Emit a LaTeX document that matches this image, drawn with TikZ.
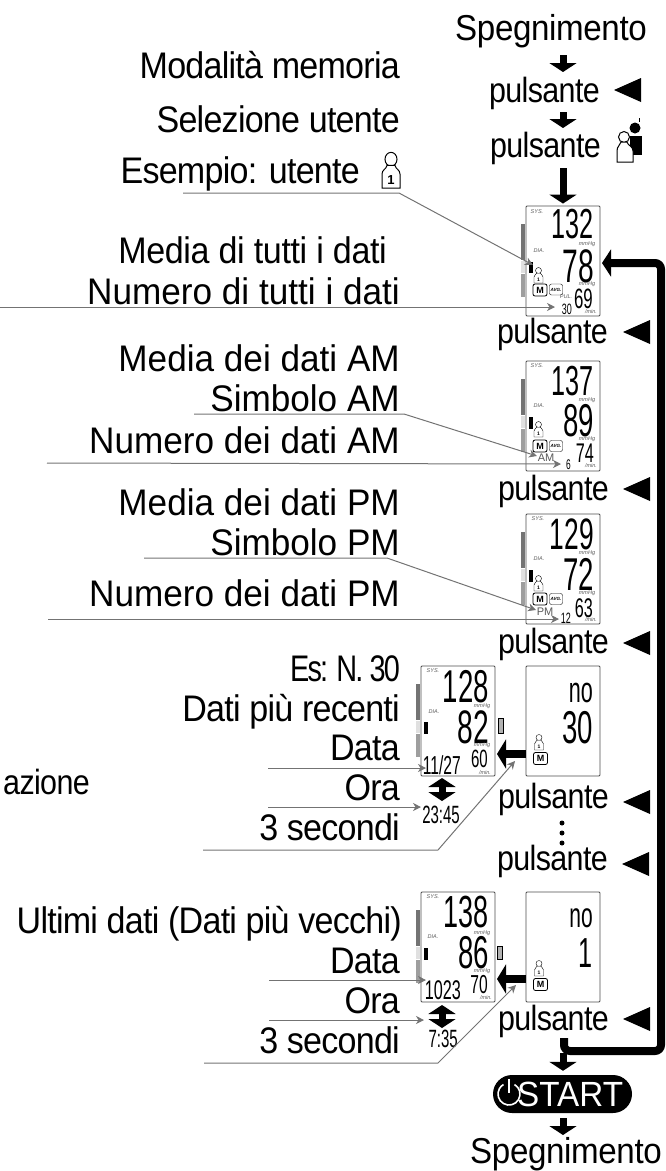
\documentclass[tikz,border=0pt]{standalone}
\usepackage{fontspec}
\setmainfont{Liberation Sans}
\newfontfamily\tightfont[FakeStretch=.92,LetterSpace=-2]{Liberation Sans}
\newfontfamily\midfont[FakeStretch=.92,LetterSpace=-1]{Liberation Sans}
\newfontfamily\plainfont[FakeStretch=.95]{Liberation Sans}
\newfontfamily\btnfont[FakeStretch=.87,LetterSpace=-1.8]{Liberation Sans}
\newfontfamily\narrowfont[FakeStretch=.78,LetterSpace=-5]{Liberation Sans}
\newfontfamily\lcdfont[FakeStretch=.6]{Liberation Sans}
\usetikzlibrary{arrows.meta,shapes.misc}
\begin{document}
\begin{tikzpicture}[
  x=1pt, y=-1pt,
  tightlab/.style={font=\tightfont\fontsize{37}{37}\selectfont, anchor=base east, inner sep=0pt},
  midlab/.style={font=\midfont\fontsize{37}{37}\selectfont, anchor=base east, inner sep=0pt},
  plainlab/.style={font=\plainfont\fontsize{37}{37}\selectfont, anchor=base east, inner sep=0pt},
  narrowlab/.style={font=\narrowfont\fontsize{37}{37}\selectfont, anchor=base east, inner sep=0pt},
  btnlab/.style={font=\btnfont\fontsize{35}{35}\selectfont, anchor=base east, inner sep=0pt},
  offlab/.style={font=\midfont\fontsize{36}{36}\selectfont, anchor=base, inner sep=0pt},
  lcdbox/.style={draw=black!70, rounded corners=1pt, line width=0.9pt, minimum width=74, minimum height=110, inner sep=0pt},
  lcd/.style={font=\lcdfont\fontsize{#1}{#1}\selectfont, anchor=base east, inner sep=0pt},
  tinylab/.style={font=\itshape\fontsize{5.5}{5.5}\selectfont, text=black!65, inner sep=0pt},
  grylab/.style={font=\fontsize{11}{11}\selectfont, text=black!65, anchor=base, inner sep=0pt},
  mbtn/.style={draw=black, thick, rounded corners=2pt, minimum width=14, minimum height=12, inner sep=0pt, font=\bfseries\fontsize{9}{9}\selectfont},
  avgbtn/.style={draw=black, rounded corners=2pt, minimum width=13, minimum height=11, inner sep=0pt, font=\bfseries\itshape\fontsize{4.5}{4.5}\selectfont},
  leader/.style={draw=black!55, line width=1pt, -{Stealth[length=8pt,width=8pt,inset=2.5pt]}},
  stub/.style={draw=black, line width=7pt, -{Triangle[length=9pt,width=27pt]}},
  updown/.style={draw=black, line width=7pt, {Triangle[length=9pt,width=27pt]}-{Triangle[length=9pt,width=27pt]}},
  looparrow/.style={draw=black, line width=8pt, rounded corners=6pt, -{Triangle[length=9pt,width=27pt]}},
  leftarrow/.style={draw=black, line width=8pt, -{Triangle[length=9pt,width=29pt]}},
  dotmark/.style={circle, fill=black, inner sep=0pt, minimum size=5},
  sidebar/.pic={
    \fill[black!55] (0,0) rectangle (4,36);
    \fill[black!12] (0,37) rectangle (4,49);
    \fill[black!38] (0,50) rectangle (4,73);
  },
  lefttri/.pic={\fill (0,0) -- (0,24) -- (-27,12) -- cycle;},
  usericon/.pic={
    \draw (0,-12.5) circle[radius=3];
    \draw[fill=white] (-4.5,0) -- (-4.5,-6) .. controls (-4.5,-8) and (-2.5,-8) .. (-2,-9.8) -- (2,-9.8) .. controls (2.5,-8) and (4.5,-8) .. (4.5,-6) -- (4.5,0) -- cycle;
    \node[font=\bfseries\fontsize{#1}{#1}\selectfont, inner sep=0pt] (usernum) at (0,-3.6) {1};
  }
]
  \useasboundingbox (0,0) rectangle (666,1171);
  \coordinate (spine) at (563,0);

  % Colonna destra
  \node[offlab] (off1) at (551,40) {Spegnimento};
  \node[btnlab] (btn1) at (600,102) {pulsante};
  \node[btnlab] (btn2) at (601,157) {pulsante};
  \node[btnlab] (btn3) at (608,343) {pulsante};
  \node[btnlab] (btn4) at (609,500) {pulsante};
  \node[btnlab] (btn5) at (609,653) {pulsante};
  \node[btnlab] (btn6) at (609,808) {pulsante};
  \node[btnlab] (btn7) at (608,870) {pulsante};
  \node[btnlab] (btn8) at (609,1030) {pulsante};
  \node[offlab] (off2) at (566,1163) {Spegnimento};

  \pic at (641,78) {lefttri};
  \pic at (650,320) {lefttri};
  \pic at (650,477) {lefttri};
  \pic at (650,631) {lefttri};
  \pic at (650,790) {lefttri};
  \pic at (649,852) {lefttri};
  \pic at (650,1007) {lefttri};

  % Icona doppio utente
  \fill (635,128) circle[radius=5.5];
  \fill (630,136) rectangle (642,155);
  \fill (638.5,118) rectangle (640,122);
  \draw[fill=white, line width=1pt] (624,137) circle[radius=5.5];
  \draw[fill=white, line width=1pt] (617,162) -- (617,151) .. controls (617,146) and (620,146) .. (621,142) -- (627,142) .. controls (628,146) and (633,146) .. (633,151) -- (633,162) -- cycle;

  \node[dotmark] (dot1) at (562,823) {};
  \node[dotmark] (dot2) at (562,833) {};
  \node[dotmark] (dot3) at (562,843) {};

  % Display
  \node[lcdbox] (d1) at (563,261) {};
  \node[lcdbox] (d2) at (563,416) {};
  \node[lcdbox] (d3) at (563,569) {};
  \node[lcdbox] (d4) at (458,721) {};
  \node[lcdbox] (n4) at (563,721) {};
  \node[lcdbox] (d5) at (458,947) {};
  \node[lcdbox] (n5) at (563,947) {};

  \pic at (521,224) {sidebar};
  \pic at (521,379) {sidebar};
  \pic at (521,532) {sidebar};
  \pic at (416,684) {sidebar};
  \pic at (416,910) {sidebar};

  \fill (529,262) rectangle (533,273);
  \fill (529,417) rectangle (533,429);
  \fill (529,570) rectangle (533,582);
  \fill (424,722) rectangle (428,734);
  \fill (424,948) rectangle (428,960);

  \pic at (538.5,283) {usericon=5};
  \pic at (538.5,437) {usericon=5};
  \pic at (538.5,591) {usericon=5};
  \pic at (539,750) {usericon=5};
  \pic at (539,976) {usericon=5};

  \node[mbtn] (m1) at (540,290) {M};
  \node[avgbtn] (a1) at (556,289.5) {AVG.};
  \node[mbtn] (m2) at (540,446) {M};
  \node[avgbtn] (a2) at (556,446) {AVG.};
  \node[mbtn] (m3) at (540,599) {M};
  \node[avgbtn] (a3) at (556,599) {AVG.};
  \node[mbtn] (m4) at (540.5,758.5) {M};
  \node[mbtn] (m5) at (540.5,984.5) {M};

  % Cifre
  \node[lcd=42] (v11) at (594,238) {132};
  \node[lcd=47] (v12) at (594,282) {78};
  \node[lcd=28] (v13) at (593,308) {69};
  \node[lcd=15] (v14) at (572,314) {30};
  \node[lcd=42] (v21) at (594,395) {137};
  \node[lcd=46] (v22) at (594,436) {89};
  \node[lcd=27] (v23) at (594,462) {74};
  \node[lcd=14] (v24) at (571,469) {6};
  \node[lcd=44] (v31) at (594,549) {129};
  \node[lcd=46] (v32) at (594,590) {72};
  \node[lcd=27] (v33) at (593,617) {63};
  \node[lcd=15] (v34) at (571,623) {12};
  \node[lcd=46] (v41) at (489,702) {128};
  \node[lcd=47] (v42) at (489,743) {82};
  \node[lcd=25] (v43) at (488,767) {60};
  \node[lcd=26] (v44) at (461,774) {11/27};
  \node[lcd=25] (v45) at (460,823) {23:45};
  \node[lcd=36] (t41) at (593,702) {no};
  \node[lcd=46] (t42) at (593,743) {30};
  \node[lcd=45] (v51) at (489,927) {138};
  \node[lcd=46] (v52) at (489,968) {86};
  \node[lcd=26] (v53) at (488,993) {70};
  \node[lcd=27] (v54) at (461,999) {1023};
  \node[lcd=25] (v55) at (458,1047) {7:35};
  \node[lcd=35] (t51) at (593,927) {no};
  \node[lcd=42] (t52) at (593,967) {1};

  \node[tinylab] (s1) at (537,212) {SYS.};
  \node[tinylab] (s2) at (537,366) {SYS.};
  \node[tinylab] (s3) at (538,519) {SYS.};
  \node[tinylab] (s4) at (433,671) {SYS.};
  \node[tinylab] (s5) at (433,897) {SYS.};
  \node[tinylab] (i1) at (539,251) {DIA.};
  \node[tinylab] (i2) at (539,406) {DIA.};
  \node[tinylab] (i3) at (539,559) {DIA.};
  \node[tinylab] (i4) at (434,712) {DIA.};
  \node[tinylab] (i5) at (433,937) {DIA.};
  \node[tinylab] (h11) at (587,244) {mmHg};
  \node[tinylab] (h12) at (587,284) {mmHg};
  \node[tinylab] (h21) at (587,400) {mmHg};
  \node[tinylab] (h22) at (587,439) {mmHg};
  \node[tinylab] (h31) at (587,553) {mmHg};
  \node[tinylab] (h32) at (587,593) {mmHg};
  \node[tinylab] (h41) at (482,706) {mmHg};
  \node[tinylab] (h42) at (482,745) {mmHg};
  \node[tinylab] (h51) at (482,933) {mmHg};
  \node[tinylab] (h52) at (482,971) {mmHg};
  \node[tinylab] (pul) at (566,297) {PUL.};
  \node[tinylab] (r1) at (591,312) {/min.};
  \node[tinylab] (r2) at (591,466) {/min.};
  \node[tinylab] (r3) at (591,620) {/min.};
  \node[tinylab] (r4) at (485,773) {/min.};
  \node[tinylab] (r5) at (486,998) {/min.};
  \node[grylab] (am) at (546,461) {AM};
  \node[grylab] (pm) at (545,615) {PM};

  \draw[fill=black!30, line width=0.7pt] (498,718) rectangle (503,733);
  \draw[fill=black!30, line width=0.7pt] (497,946) rectangle (502,959);

  % Frecce nere
  \coordinate (f1) at (563,55); \coordinate (f2) at (563,72);
  \coordinate (f3) at (563,112); \coordinate (f4) at (563,128);
  \coordinate (f5) at (563,168);
  \coordinate (f6) at (563,1053); \coordinate (f7) at (563,1118); \coordinate (f8) at (563,1135);
  \draw[stub] (f1) -- (f2);
  \draw[stub] (f3) -- (f4);
  \draw[stub, shorten >=2pt] (f5) -- (d1.north -| spine);

  \coordinate (tip4) at (497,754);
  \coordinate (tip5) at (497,979);
  \draw[leftarrow] (n4.west |- tip4) -- (tip4);
  \draw[leftarrow] (n5.west |- tip5) -- (tip5);

  \coordinate (ud1) at (442,778);
  \coordinate (ud2) at (442,801);
  \coordinate (ud3) at (442,1005);
  \coordinate (ud4) at (442,1028);
  \draw[updown] (ud1) -- (ud2);
  \draw[updown] (ud3) -- (ud4);

  \node[rounded rectangle, fill=black, minimum width=139, minimum height=38, inner sep=0pt] (start) at (562.5,1094) {};
  \node[font=\plainfont\fontsize{35}{35}\selectfont, text=white, anchor=base west, inner sep=0pt] (starttxt) at (517,1106) {START};
  \draw[white, line width=1.6pt] (514.5,1084.5) arc[start angle=-60, end angle=240, radius=11];
  \draw[white, line width=1.6pt] (509,1079) -- (509,1093);

  \draw[stub, shorten >=4pt] (f6) -- (start.north -| spine);
  \draw[stub] (f7) -- (f8);

  \coordinate (loop1) at (564,1038);
  \coordinate (loop2) at (564,1051);
  \coordinate (loop3) at (661,1051);
  \coordinate (loop4) at (661,263);
  \coordinate (loop5) at (602,263);
  \draw[looparrow] (loop1) -- (loop2) -- (loop3) -- (loop4) -- (loop5);

  % Etichette
  \node[tightlab] (l1) at (400,78) {Modalità memoria};
  \node[tightlab] (l2) at (400,132) {Selezione utente};
  \node[tightlab] (l3) at (360,183) {Esempio: utente};
  \pic[xscale=2, yscale=2.3, line width=1pt] at (391,188) {usericon=13};
  \node[midlab] (l4) at (387,263) {Media di tutti i dati};
  \node[plainlab] (l5) at (400,304) {Numero di tutti i dati};
  \node[plainlab] (l6) at (400,371) {Media dei dati AM};
  \node[plainlab] (l7) at (400,411) {Simbolo AM};
  \node[plainlab] (l8) at (400,453) {Numero dei dati AM};
  \node[plainlab] (l9) at (400,515) {Media dei dati PM};
  \node[plainlab] (l10) at (400,555) {Simbolo PM};
  \node[plainlab] (l11) at (400,606) {Numero dei dati PM};
  \node[narrowlab] (l12) at (400,681) {Es: N. 30};
  \node[tightlab] (l13) at (400,721) {Dati più recenti};
  \node[tightlab] (l14) at (400,760) {Data};
  \node[tightlab] (l15) at (400,800) {Ora};
  \node[tightlab] (l16) at (400,840) {3 secondi};
  \node[btnlab] (l17) at (90,794) {azione};
  \node[tightlab] (l18) at (402,933) {Ultimi dati (Dati più vecchi)};
  \node[tightlab] (l19) at (400,973) {Data};
  \node[tightlab] (l20) at (400,1013) {Ora};
  \node[tightlab] (l21) at (400,1053) {3 secondi};

  % Linee di richiamo
  \coordinate (q1) at (183,193); \coordinate (b1) at (399,193); \coordinate (e1) at (533,265);
  \draw[leader] (q1) -- (b1) -- (e1);
  \coordinate (q2) at (0,307); \coordinate (e2) at (555,307);
  \draw[leader] (q2) -- (e2);
  \coordinate (q3) at (194,414); \coordinate (b3) at (404,414); \coordinate (e3) at (537,456);
  \draw[leader] (q3) -- (b3) -- (e3);
  \coordinate (q4) at (47,463); \coordinate (e4) at (561,464);
  \draw[leader] (q4) -- (e4);
  \coordinate (q5) at (144,558); \coordinate (b5) at (387,558); \coordinate (e5) at (536,610);
  \draw[leader] (q5) -- (b5) -- (e5);
  \coordinate (q6) at (48,619); \coordinate (e6) at (559,619);
  \draw[leader] (q6) -- (e6);
  \coordinate (q7) at (268,768); \coordinate (e7) at (426,768);
  \draw[leader] (q7) -- (e7);
  \coordinate (q8) at (268,807); \coordinate (e8) at (421,807);
  \draw[leader] (q8) -- (e8);
  \coordinate (q9) at (203,850); \coordinate (b9) at (438,850); \coordinate (e9) at (515,761);
  \draw[leader] (q9) -- (b9) -- (e9);
  \coordinate (q10) at (269,980); \coordinate (e10) at (426,980);
  \draw[leader] (q10) -- (e10);
  \coordinate (q11) at (269,1020); \coordinate (e11) at (424,1020);
  \draw[leader] (q11) -- (e11);
  \coordinate (q12) at (204,1063); \coordinate (b12) at (438,1063); \coordinate (e12) at (516,985);
  \draw[leader] (q12) -- (b12) -- (e12);
\end{tikzpicture}
\end{document}
